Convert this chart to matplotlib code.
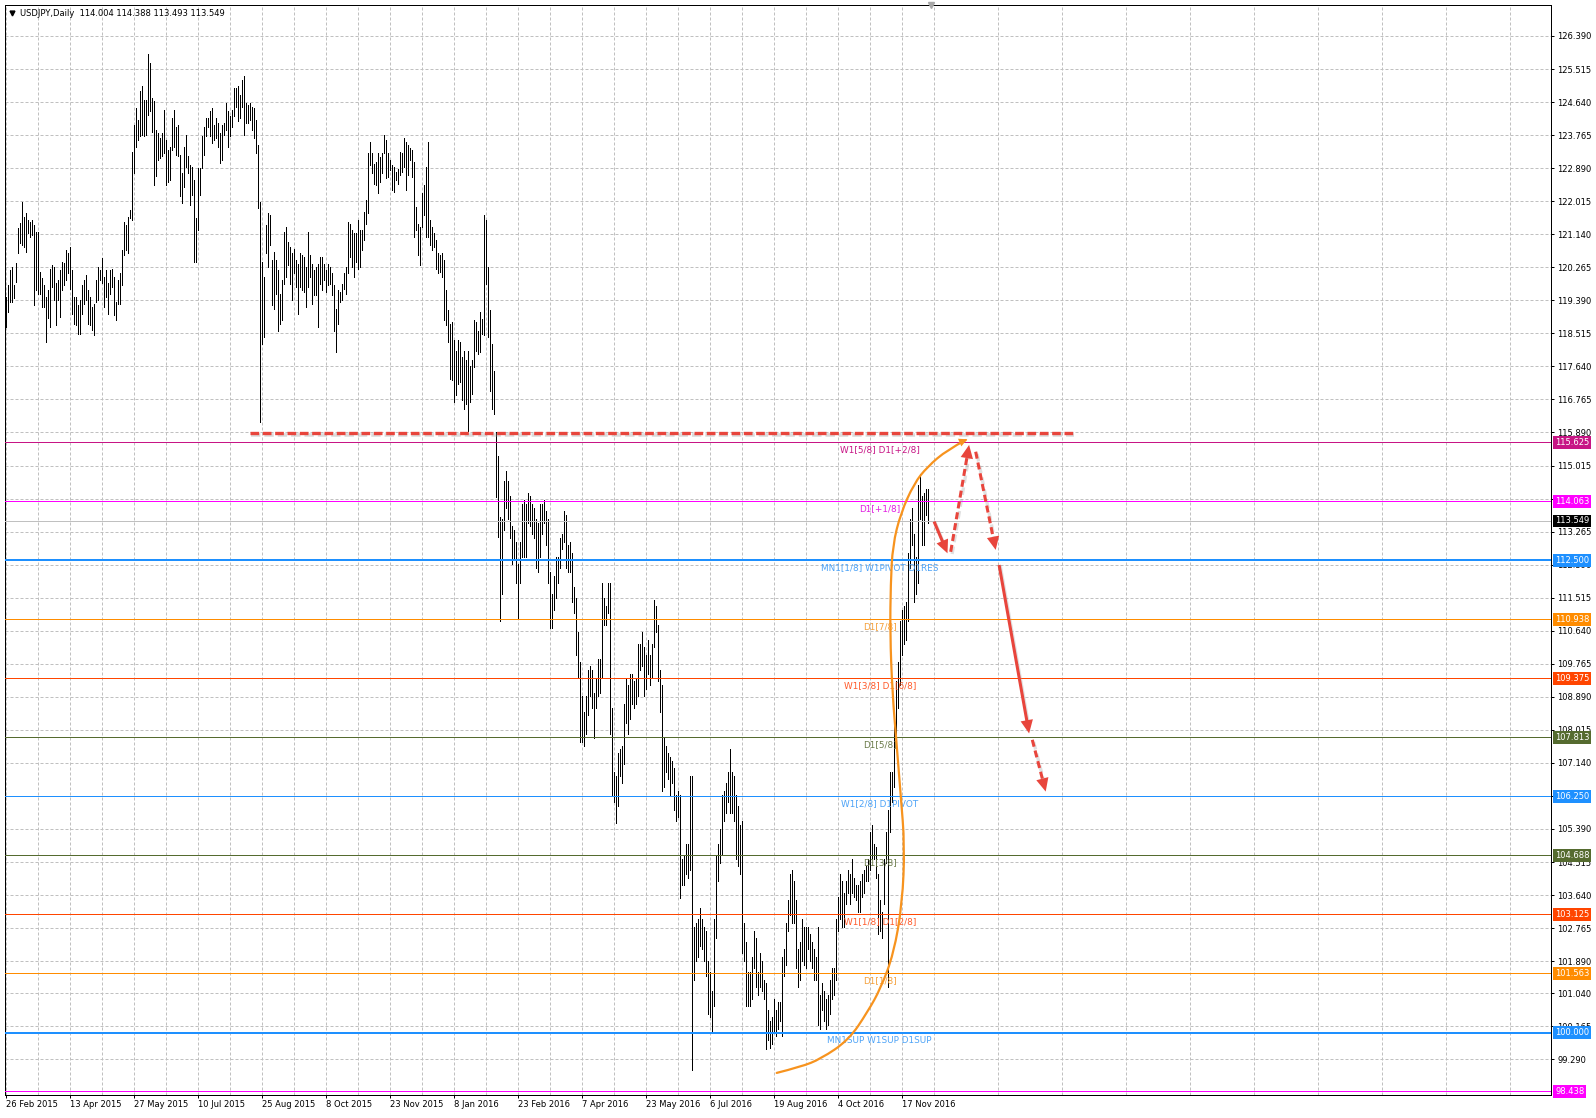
import numpy as np
import matplotlib
matplotlib.use('Agg')
import matplotlib.pyplot as plt
from matplotlib.transforms import blended_transform_factory, offset_copy
from matplotlib.path import Path
from matplotlib.patches import PathPatch

plt.rcParams['font.family'] = ['DejaVu Sans']

# ---------------- DATA ----------------
# USDJPY daily highs / lows, 26 Feb 2015 -> 7 Dec 2016
high_a = [
    119.48, 119.79, 120.19, 120.28, 119.79, 120.37, 121.30, 121.43, 122.00, 121.60,
    121.69, 121.52, 121.47, 121.52, 121.38, 121.21, 121.21, 120.14, 119.97, 119.79,
    119.48, 119.66, 120.23, 120.32, 120.28, 119.84, 119.92, 120.19, 120.41, 120.37,
    120.72, 120.63, 120.81, 120.19, 119.48, 119.48, 119.26, 119.39, 119.79, 119.92,
    120.06, 119.66, 119.48, 119.22, 119.30, 119.92, 120.28, 120.19, 120.50, 120.01,
    120.19, 119.84, 120.19, 120.23, 120.01, 119.35, 119.92, 120.10, 120.72, 121.47,
    121.38, 121.60, 121.78, 123.33, 124.04, 124.48, 124.17, 124.92, 125.06, 124.70,
    124.70, 125.90, 125.67, 124.75, 124.66, 123.90, 123.82, 123.68, 123.82, 124.44,
    123.64, 123.37, 123.46, 124.21, 124.44, 123.99, 124.04, 123.24, 122.75, 123.46,
    123.77, 123.20, 122.97, 122.93, 122.58, 121.56, 122.89, 122.89, 123.73, 123.99,
    124.21, 124.21, 124.39, 124.48, 124.04, 124.21, 124.08, 123.82, 124.04, 124.08,
    124.61, 124.39, 124.26, 124.44, 125.01, 125.01, 125.06, 124.83, 125.23, 125.32,
    124.61, 124.57, 124.61, 124.52, 124.48, 124.17, 123.51, 122.00]
low_a = [
    118.68, 119.08, 119.35, 119.35, 119.44, 119.88, 120.63, 120.90, 120.85, 120.81,
    120.68, 121.16, 121.07, 121.12, 119.26, 119.66, 119.57, 119.57, 119.22, 119.22,
    118.29, 118.91, 118.68, 119.75, 119.39, 118.73, 119.39, 118.95, 119.66, 119.79,
    119.92, 120.10, 119.70, 119.04, 118.77, 118.73, 118.51, 118.51, 119.04, 119.30,
    119.39, 118.77, 118.73, 118.60, 118.46, 119.35, 119.39, 119.92, 119.84, 119.22,
    119.48, 119.04, 119.57, 119.75, 118.99, 118.86, 119.30, 119.30, 119.79, 120.59,
    120.72, 120.63, 121.56, 121.52, 122.75, 123.46, 123.64, 123.73, 123.77, 123.73,
    123.77, 124.30, 124.39, 123.86, 122.44, 122.67, 123.11, 123.15, 123.20, 123.29,
    122.44, 122.53, 122.58, 123.37, 123.46, 123.24, 123.20, 122.14, 121.96, 122.40,
    122.93, 122.75, 121.91, 122.18, 120.41, 120.41, 121.25, 122.18, 122.89, 123.24,
    123.73, 123.99, 123.73, 123.55, 123.64, 123.68, 123.46, 123.02, 123.11, 123.77,
    123.90, 123.46, 123.73, 123.99, 124.26, 124.52, 124.13, 124.21, 124.52, 123.77,
    124.08, 124.08, 124.17, 123.90, 123.68, 123.29, 121.83, 116.16]

high_b = [
    120.41, 120.01, 121.38, 121.69, 121.64, 120.45, 120.67, 120.45, 120.19, 119.57,
    119.92, 121.20, 121.33, 120.94, 120.80, 120.63, 120.76, 120.45, 120.36, 120.63,
    120.58, 120.54, 120.27, 121.20, 120.58, 120.36, 120.19, 120.27, 120.36, 120.54,
    120.54, 120.36, 120.19, 120.36, 120.27, 120.10, 119.79, 119.17, 119.65, 119.61,
    119.83, 120.10, 120.27, 121.47, 121.42, 121.25, 121.16, 121.16, 121.51, 121.25,
    121.25, 121.73, 122.04, 123.28, 123.59, 123.28, 123.01, 123.06, 123.28, 123.19,
    123.28, 123.77, 123.63, 123.28, 123.10, 122.97, 122.93, 122.79, 122.88, 123.32,
    123.28, 123.68, 123.59, 123.50, 123.41, 123.37, 123.06, 121.86, 121.42, 121.33,
    122.22, 122.44, 122.93, 123.59, 121.51, 121.33, 121.16, 120.98, 120.63, 120.58,
    120.63, 120.45, 119.65, 119.12, 118.77, 118.81, 118.33, 118.06, 118.33, 118.29,
    117.89, 118.06, 117.80, 118.06, 117.66, 117.80, 118.86, 118.81, 118.59, 119.08,
    118.90, 121.64, 121.51, 120.27, 119.12, 118.24, 117.53, 115.90, 115.28, 113.64]
low_b = [
    118.24, 118.42, 120.63, 120.27, 120.85, 119.26, 119.17, 119.57, 118.59, 118.77,
    118.86, 119.83, 120.01, 120.32, 119.83, 119.39, 120.10, 119.74, 119.04, 119.74,
    119.65, 119.61, 119.21, 119.74, 120.01, 119.30, 119.52, 119.52, 118.68, 119.83,
    119.65, 119.92, 119.61, 119.79, 119.83, 119.52, 118.59, 118.02, 118.77, 119.35,
    119.39, 119.70, 119.57, 120.10, 120.54, 120.27, 120.01, 120.41, 120.23, 120.27,
    120.72, 120.98, 121.42, 121.69, 122.97, 122.75, 122.48, 122.44, 122.22, 122.53,
    122.75, 123.28, 122.62, 122.66, 122.84, 122.31, 122.26, 122.57, 122.48, 122.70,
    122.79, 122.93, 122.31, 122.70, 123.10, 122.66, 121.07, 121.25, 120.58, 120.32,
    121.33, 121.64, 121.07, 121.07, 120.85, 120.72, 120.80, 120.23, 120.10, 120.14,
    120.01, 118.86, 118.73, 118.28, 117.31, 117.27, 116.69, 116.87, 117.18, 117.22,
    116.74, 116.52, 116.65, 115.94, 116.69, 116.91, 117.62, 118.06, 117.98, 118.02,
    118.51, 118.46, 119.83, 118.42, 117.00, 116.52, 116.39, 114.17, 113.11, 110.90]

high_c = [
    113.60, 114.60, 114.87, 114.60, 114.20, 113.40, 113.30, 113.00, 112.40, 113.00, 114.00, 114.10,
    114.00, 114.30, 114.20, 114.00, 113.90, 113.60, 113.50, 114.00, 114.00, 114.10, 113.80, 113.60,
    112.20, 111.60, 112.10, 112.60, 112.60, 113.10, 113.20, 113.80, 113.70, 112.90, 113.00,
    112.70, 111.80, 111.50, 110.60, 109.80, 108.90, 108.50, 108.90, 109.60, 109.70, 109.60, 109.00,
    109.40, 109.90, 109.90, 111.90, 111.50, 111.30, 111.90, 111.90, 108.60,
    106.90, 106.80, 107.40, 107.50, 107.60, 108.70, 109.40, 109.20, 109.50, 109.50, 109.30, 109.40,
    110.30, 110.30, 110.60, 110.20, 110.00, 110.40, 110.00, 110.30, 111.45, 111.30,
    110.80, 109.60, 109.20, 107.80, 107.60, 107.40, 107.30, 107.20, 107.00, 106.30, 106.40, 106.30,
    104.60, 104.70, 105.00, 105.00, 106.80, 106.80, 102.80, 102.90, 103.00, 103.30,
    103.00, 102.80, 102.70, 101.90, 101.60, 101.10, 103.00, 104.70, 105.00, 105.40, 106.30, 106.40,
    106.60, 106.90, 107.50, 106.90, 106.80, 106.30, 106.00, 105.50, 105.60,
    102.90, 102.40, 101.60, 101.60, 102.00, 102.70, 102.50, 101.60, 102.10, 101.90, 101.40, 101.30,
    100.60, 100.30, 100.40, 100.90, 100.60, 100.80, 100.80, 102.00, 102.20, 102.90, 103.50,
    104.20, 104.30, 104.00, 103.50, 102.20, 102.40, 103.00, 102.80, 102.80, 102.80, 102.60, 102.40,
    102.20, 102.00, 102.80, 101.00, 101.30, 101.10, 100.90, 101.00, 101.40, 101.70,
    101.70, 103.00, 103.60, 104.20, 104.00, 103.70, 104.00, 104.30, 104.20, 104.60, 104.10, 103.90,
    103.90, 104.00, 104.20, 104.30, 104.40, 104.60, 105.30, 105.50, 105.00,
    104.90, 104.20, 103.50, 103.20, 104.60, 105.30, 105.90, 106.90, 106.90, 108.50, 109.30, 109.80,
    110.90, 111.20, 111.30, 111.40, 112.70, 113.60, 113.90, 113.20, 112.60, 114.50,
    114.80, 114.20, 114.30, 114.40, 114.39]
low_c = [
    111.60, 113.30, 113.90, 113.60, 113.10, 112.40, 112.50, 111.90, 110.97, 111.90, 112.60, 112.60,
    112.60, 113.50, 113.40, 113.20, 113.10, 112.30, 112.20, 112.60, 113.20, 113.50, 112.90, 111.90,
    110.70, 110.70, 111.20, 111.50, 111.90, 112.30, 112.80, 113.00, 112.30, 112.20, 112.20,
    111.40, 111.10, 110.00, 109.40, 107.70, 107.70, 107.60, 107.90, 108.40, 108.90, 108.60, 107.80,
    108.60, 108.90, 109.00, 109.40, 110.80, 110.80, 111.10, 107.90, 106.30,
    106.10, 105.55, 106.00, 106.80, 106.60, 107.10, 108.20, 107.90, 108.30, 108.70, 108.60, 108.70,
    108.90, 109.60, 109.70, 108.90, 109.10, 109.50, 109.20, 109.40, 110.20, 110.60,
    109.30, 108.50, 106.40, 106.50, 106.90, 106.70, 106.30, 106.60, 105.90, 105.60, 105.70, 103.55,
    103.90, 103.90, 104.20, 104.10, 104.30, 99.00, 101.40, 101.90, 102.00, 102.30,
    102.20, 101.90, 101.50, 100.50, 100.40, 99.99, 100.70, 102.50, 104.00, 104.50, 104.70, 105.60,
    105.80, 106.10, 105.80, 105.80, 105.60, 104.60, 104.40, 104.20, 102.10,
    101.90, 100.70, 100.70, 100.70, 100.90, 101.70, 101.20, 101.00, 101.20, 101.10, 100.90, 99.55,
    99.80, 99.60, 99.70, 100.00, 99.90, 100.10, 100.30, 99.90, 101.50, 101.80, 102.70,
    103.10, 102.90, 102.90, 101.70, 101.20, 101.40, 101.90, 101.80, 101.70, 102.20, 101.90, 101.70,
    101.40, 101.40, 100.20, 100.10, 100.60, 100.30, 100.10, 100.20, 100.50, 100.90,
    101.00, 101.40, 102.70, 103.00, 102.80, 102.80, 103.40, 103.70, 103.40, 103.70, 103.60, 103.50,
    103.20, 103.20, 103.60, 103.70, 104.00, 104.00, 104.30, 104.60, 104.60,
    104.10, 102.60, 102.70, 102.50, 103.40, 104.50, 101.20, 105.30, 106.10, 106.50, 107.90, 108.60,
    109.20, 110.00, 110.30, 110.40, 110.90, 112.30, 112.90, 111.40, 111.60, 111.90,
    113.60, 112.90, 112.90, 113.70, 113.49]

highs = np.array(high_a + high_b + high_c)
lows = np.array(low_a + low_b + low_c)

date_labels = ['26 Feb 2015', '13 Apr 2015', '27 May 2015', '10 Jul 2015', '25 Aug 2015',
               '8 Oct 2015', '23 Nov 2015', '8 Jan 2016', '23 Feb 2016', '7 Apr 2016',
               '23 May 2016', '6 Jul 2016', '19 Aug 2016', '4 Oct 2016', '17 Nov 2016']
price_labels = ['99.290', '100.165', '101.040', '101.890', '102.765', '103.640', '104.515',
                '105.390', '106.265', '107.140', '108.015', '108.890', '109.765', '110.640',
                '111.515', '112.390', '113.265', '114.140', '115.015', '115.890', '116.765',
                '117.640', '118.515', '119.390', '120.265', '121.140', '122.015', '122.890',
                '123.765', '124.640', '125.515', '126.390']

levels = [115.625, 114.063, 112.500, 110.938, 109.375, 107.813, 106.250,
          104.688, 103.125, 101.563, 100.000, 98.438]
level_names = ['W1[5/8] D1[+2/8]', 'D1[+1/8]', 'MN1[1/8] W1PIVOT D1RES', 'D1[7/8]',
               'W1[3/8] D1[6/8]', 'D1[5/8]', 'W1[2/8] D1PIVOT', 'D1[3/8]',
               'W1[1/8] D1[2/8]', 'D1[1/8]', 'MN1SUP W1SUP D1SUP', '']
level_colors = ['#C71585', '#FF00FF', '#1E90FF', '#FF8C00', '#FF4500', '#556B2F',
                '#1E90FF', '#556B2F', '#FF4500', '#FF8C00', '#1E90FF', '#FF00FF']
level_text_colors = ['#C71585', '#E020E0', '#4DA3F7', '#F5A03A', '#FF5A2A', '#6B7B4A',
                     '#4DA3F7', '#6B7B4A', '#FF5A2A', '#F5A03A', '#4DA3F7', '#E020E0']
level_widths = [1, 1, 2, 1, 1, 1, 1, 1, 1, 1, 2, 1]
bid_price = 113.549
header = 'USDJPY,Daily  114.004 114.388 113.493 113.549'

# hand-drawn annotations (bar index, price)
arc_bar = [385.5, 397.5, 407.5, 421.5, 431.0, 437.5, 444.0, 448.3, 449.5, 447.5, 445.5,
           443.3, 442.2, 442.5, 443.5, 447.5, 454.2, 460.8, 470.8, 480.0]
arc_price = [98.93, 99.09, 99.30, 99.80, 100.55, 101.17, 102.09, 103.42, 104.95, 106.28,
             107.61, 109.03, 110.57, 111.89, 112.90, 113.75, 114.54, 114.98, 115.43, 115.69]
res_bar = [122.0, 533.5]
res_price = 115.87
arrow_start_bar = [464.2, 472.5, 485.0, 496.7, 513.3]
arrow_start_price = [113.53, 112.73, 115.38, 112.38, 107.75]
arrow_end_bar = [470.9, 481.7, 495.0, 511.7, 520.0]
arrow_end_price = [112.69, 115.56, 112.78, 107.92, 106.38]
arrow_dashed = [False, True, True, False, True]

# ---------------- FIGURE ----------------
W, H = 1596, 1118
PX = 0.72  # points per pixel at 100 dpi
fig = plt.figure(figsize=(W / 100, H / 100), dpi=100)
fig.patch.set_facecolor('white')
L, R, T, B = 5, 1551, 5, 1095
ax = fig.add_axes([L / W, 1 - B / H, (R - L) / W, (B - T) / H])
XL = (-0.35, 772.65)
YL = (98.345, 127.21)
ax.set_xlim(*XL)
ax.set_ylim(*YL)
ax.set_facecolor('white')
for s in ax.spines.values():
    s.set_color('black')
    s.set_linewidth(PX)
# pixels per data unit (for arrow geometry)
PPX = (R - L) / (XL[1] - XL[0])
PPY = (B - T) / (YL[1] - YL[0])

RED = '#E8453C'
FS = 6.0

# grid + ticks
xt = np.arange(0, 32 * len(date_labels), 32)
ax.set_xticks(xt)
ax.set_xticklabels(date_labels)
ax.set_xticks(np.arange(16, 773, 32), minor=True)
for lab in ax.get_xticklabels():
    lab.set_ha('left')
ax.tick_params(axis='x', which='major', direction='out', length=3 * PX, width=PX,
               pad=1.2, labelsize=FS, colors='black')
ax.tick_params(axis='x', which='minor', length=0)

ax.yaxis.tick_right()
ax.set_yticks([float(v) for v in price_labels])
ax.set_yticklabels(price_labels)
ax.tick_params(axis='y', which='major', direction='out', length=3 * PX, width=PX,
               pad=2.2, labelsize=FS, colors='black')

grid_kw = dict(color='#C0C0C0', linewidth=PX, linestyle=(0, (3, 2)))
ax.grid(True, axis='x', which='both', **grid_kw)
ax.grid(True, axis='y', which='major', **grid_kw)
ax.set_axisbelow(True)

# OHLC bars (high-low), one pixel wide
x = np.arange(len(highs))
ax.vlines(x, lows, highs, colors='black', linewidth=0.55, antialiased=False, zorder=2)

# level lines, labels and price boxes
lbl_tr = offset_copy(ax.transData, fig=fig, x=0, y=-2.2, units='points')
box_tr = offset_copy(blended_transform_factory(ax.transAxes, ax.transData), fig=fig,
                     x=4 * PX, y=0, units='points')
ax.axhline(bid_price, color='#C0C0C0', linewidth=PX, zorder=3)
for v, name, c, tc, w in zip(levels, level_names, level_colors, level_text_colors, level_widths):
    ax.axhline(v, color=c, linewidth=w * PX, zorder=3)
    if name:
        ax.text(437, v, name, transform=lbl_tr, ha='center', va='top', fontsize=6.4,
                color=tc, zorder=4, clip_on=True)
    ax.text(1.0, v, f'{v:.3f}', transform=box_tr, ha='left', va='center', fontsize=FS,
            color='white', zorder=10, clip_on=False,
            bbox=dict(boxstyle='square,pad=0.22', fc=c, ec='none'))
ax.text(1.0, bid_price, f'{bid_price:.3f}', transform=box_tr, ha='left', va='center',
        fontsize=FS, color='white', zorder=10, clip_on=False,
        bbox=dict(boxstyle='square,pad=0.22', fc='black', ec='none'))

# header
hdr_tr = offset_copy(ax.transAxes, fig=fig, x=15 * PX, y=-8 * PX, units='points')
ax.text(0, 1, header, transform=hdr_tr, ha='left', va='center', fontsize=FS,
        color='black', zorder=10)
tri_tr = offset_copy(ax.transAxes, fig=fig, x=7 * PX, y=-8 * PX, units='points')
ax.plot([0], [1], transform=tri_tr, marker='v', markersize=3.5, color='black',
        clip_on=False, zorder=10)
ax.plot([462.5], [127.21], marker='v', markersize=5, color='#A8A8A8',
        clip_on=False, zorder=10)

# orange arc (smoothed through the traced points) with arrowhead
pts = np.column_stack([arc_bar, arc_price])
verts = [pts[0]]
codes = [Path.MOVETO]
n = len(pts)
for i in range(1, n - 1):
    end = pts[n - 1] if i == n - 2 else (pts[i] + pts[i + 1]) / 2
    verts += [pts[i], end]
    codes += [Path.CURVE3, Path.CURVE3]
ax.add_patch(PathPatch(Path(verts, codes), fill=False, edgecolor='#F7931E',
                       linewidth=1.6, zorder=6, capstyle='round', joinstyle='round'))
ax.annotate('', xy=(arc_bar[-1] + 0.8, arc_price[-1] + 0.02),
            xytext=(arc_bar[-2] + 3, arc_price[-2] + 0.12),
            arrowprops=dict(arrowstyle='-|>,head_length=0.6,head_width=0.3',
                            mutation_scale=10, color='#F7931E', lw=0,
                            shrinkA=0, shrinkB=0), zorder=6)

# red dashed resistance line with shadow
sh_tr = offset_copy(ax.transData, fig=fig, x=1.0, y=-1.6, units='points')
ax.plot(res_bar, [res_price, res_price], color='#999999', alpha=0.35, linewidth=2.6,
        dashes=(2.6, 1.1), transform=sh_tr, zorder=5)
ax.plot(res_bar, [res_price, res_price], color=RED, linewidth=2.4, dashes=(2.6, 1.1),
        zorder=6)

# red forecast arrows
HEAD_PX = 12.0
for xs, ys, xe, ye, dsh in zip(arrow_start_bar, arrow_start_price, arrow_end_bar,
                               arrow_end_price, arrow_dashed):
    dxp = (xe - xs) * PPX
    dyp = (ye - ys) * PPY
    lp = np.hypot(dxp, dyp)
    f = max(0.0, (lp - HEAD_PX + 2) / lp)
    xm = xs + (xe - xs) * f
    ym = ys + (ye - ys) * f
    kw = dict(dashes=(2.3, 1.3)) if dsh else {}
    ax.plot([xs, xm], [ys, ym], color='#999999', alpha=0.3, linewidth=2.4,
            transform=sh_tr, zorder=5, **kw)
    ax.plot([xs, xm], [ys, ym], color=RED, linewidth=2.2, zorder=6,
            solid_capstyle='butt', **kw)
    ax.annotate('', xy=(xe, ye), xytext=(xs + (xe - xs) * 0.5, ys + (ye - ys) * 0.5),
                arrowprops=dict(arrowstyle='-|>,head_length=0.6,head_width=0.28',
                                mutation_scale=16, color=RED, lw=0,
                                shrinkA=0, shrinkB=0), zorder=6)

fig.savefig('out.png', dpi=100, facecolor='white')
